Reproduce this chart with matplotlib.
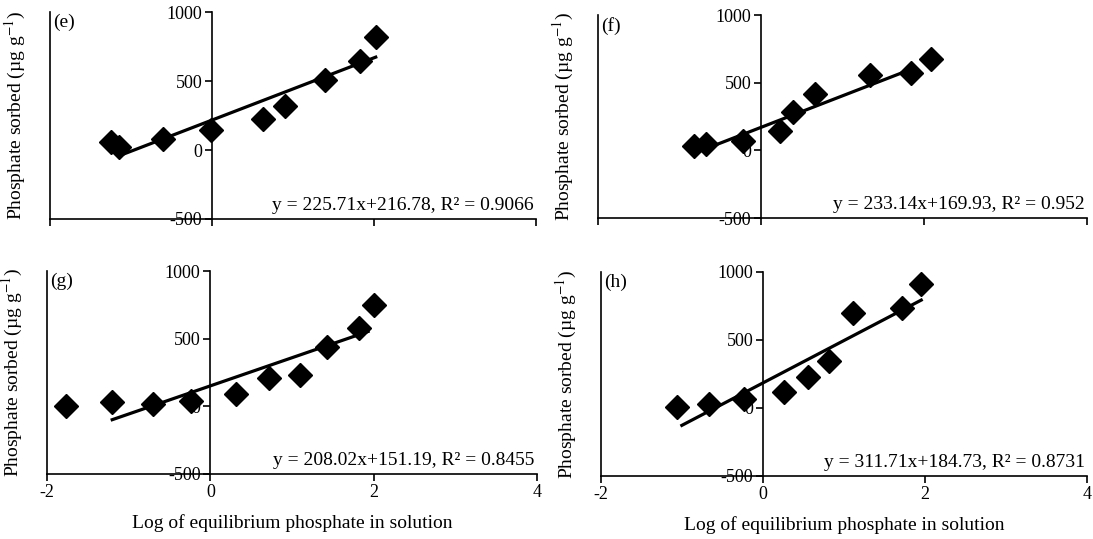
import matplotlib
matplotlib.use("Agg")
import numpy as np
import matplotlib.pyplot as plt

plt.rcParams["font.family"] = ["Liberation Serif", "DejaVu Serif"]
plt.rcParams["mathtext.fontset"] = "stix"
plt.rcParams["axes.unicode_minus"] = False

# ── data ─────────────────────────────────────────────────────────────
panel_labels = ["(e)", "(f)", "(g)", "(h)"]

e_x = [-1.25, -1.15, -0.60, -0.01, 0.63, 0.90, 1.39, 1.83, 2.03]
e_y = [60, 24, 77, 145, 222, 319, 507, 645, 821]

f_x = [-0.82, -0.67, -0.22, 0.23, 0.39, 0.66, 1.34, 1.84, 2.09]
f_y = [32, 44, 69, 140, 283, 419, 554, 571, 677]

g_x = [-1.77, -1.20, -0.70, -0.24, 0.32, 0.72, 1.10, 1.43, 1.82, 2.01]
g_y = [0, 30, 17, 37, 94, 210, 230, 437, 578, 751]

h_x = [-1.06, -0.67, -0.23, 0.26, 0.56, 0.82, 1.11, 1.72, 1.95]
h_y = [5, 29, 66, 115, 226, 342, 700, 735, 909]

slopes = [225.71, 233.14, 208.02, 311.71]
intercepts = [216.78, 169.93, 151.19, 184.73]
r2_text = ["0.9066", "0.952", "0.8455", "0.8731"]
fit_lo = [-1.17, -0.68, -1.22, -1.02]
fit_hi = [2.04, 1.90, 1.95, 1.97]

x_ticks = [-2, 0, 2, 4]
y_ticks = [-500, 0, 500, 1000]

xs = [e_x, f_x, g_x, h_x]
ys = [e_y, f_y, g_y, h_y]

# axes rectangles in figure fractions (left, bottom, width, height)
rects = [
    [0.0457, 0.5937, 0.4447, 0.3840],
    [0.5471, 0.5955, 0.4474, 0.3766],
    [0.0430, 0.1206, 0.4483, 0.3766],
    [0.5499, 0.1169, 0.4447, 0.3785],
]

fig = plt.figure(figsize=(10.93, 5.39), dpi=100)
fig.patch.set_facecolor("white")

for i in range(4):
    ax = fig.add_axes(rects[i])
    ax.set_xlim(-2, 4)
    ax.set_ylim(-500, 1000)

    # scatter points
    ax.plot(xs[i], ys[i], ls="none", marker="D", ms=12.5, color="black",
            mec="black", clip_on=False, zorder=3)

    # regression line
    lx = np.array([fit_lo[i], fit_hi[i]])
    ax.plot(lx, slopes[i] * lx + intercepts[i], color="black", lw=2.3,
            solid_capstyle="butt", zorder=2)

    # spines: y axis crosses at x = 0, frame line on the left at x = -2
    ax.spines["top"].set_visible(False)
    ax.spines["right"].set_position(("data", -2))
    ax.spines["left"].set_position(("data", 0))
    for s in ["left", "right", "bottom"]:
        ax.spines[s].set_linewidth(1.2)
    ax.yaxis.set_ticks_position("left")
    ax.xaxis.set_ticks_position("bottom")

    ax.set_xticks(x_ticks)
    ax.set_yticks(y_ticks)
    ax.set_yticklabels([str(v) for v in y_ticks])
    ax.tick_params(axis="both", direction="out", length=5, width=1.2,
                   labelsize=13, pad=2)
    if i < 2:
        ax.tick_params(axis="x", labelbottom=False)
    else:
        ax.set_xticklabels([str(v) for v in x_ticks])
        ax.set_xlabel("Log of equilibrium phosphate in solution",
                      fontsize=14, labelpad=10)

    ax.set_ylabel(r"Phosphate sorbed (µg g$^{-1}$)", fontsize=14)
    ax.yaxis.set_label_coords(-0.045, 0.5)

    ax.text(0.006, 0.99, panel_labels[i], transform=ax.transAxes,
            ha="left", va="top", fontsize=14)
    eq = f"y = {slopes[i]:.2f}x+{intercepts[i]:.2f}, R² = {r2_text[i]}"
    ax.text(0.995, 0.025, eq, transform=ax.transAxes, ha="right",
            va="bottom", fontsize=14)

fig.savefig("out.png", dpi=100, facecolor="white")
